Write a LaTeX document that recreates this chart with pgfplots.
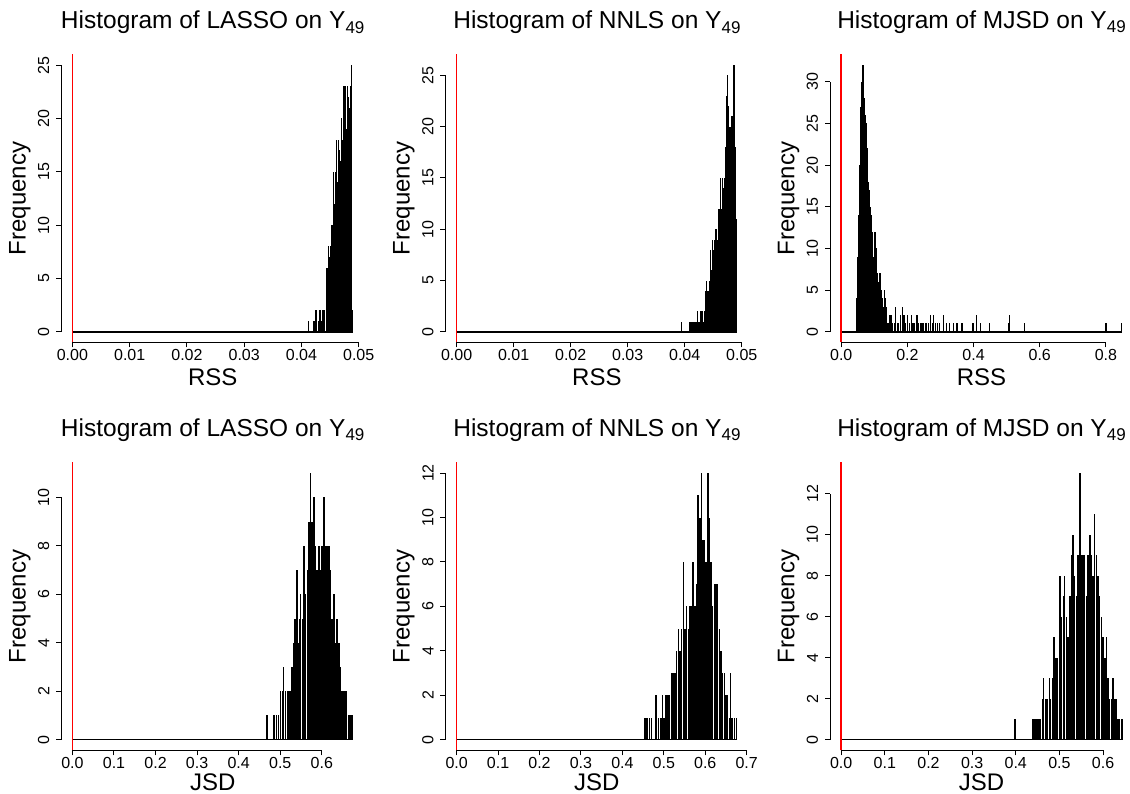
\documentclass[border=0pt]{standalone}
\usepackage{fontspec}
\setmainfont{Liberation Sans}
\usepackage{pgfplots}
\pgfplotsset{compat=1.18}

\newcommand{\histtitle}[1]{Histogram of #1 on Y\raisebox{-4.5pt}{\fontsize{17}{17}\selectfont 49}}

% R-like histogram panel
\pgfplotsset{
  rhist/.style={
    scale only axis, width=303pt, height=288pt,
    anchor=south west, clip=false,
    axis x line*=bottom, axis y line*=left,
    axis line style={draw=none},
    tick align=outside, major tick length=5pt,
    every tick/.style={black, line width=1pt},
    minor tick num=0, scaled ticks=false,
    /pgf/number format/assume math mode=true,
    tick label style={font=\fontsize{16}{16}\selectfont, inner sep=0pt},
    xticklabel shift=1.5pt,
    yticklabel shift=6.7pt,
    yticklabel style={rotate=90, anchor=south},
    title style={at={(axis description cs:0.5,1.0694)}, anchor=base,
      font=\fontsize{24.5}{28}\selectfont, inner sep=0pt},
    xlabel style={at={(axis description cs:0.5,-0.151)}, anchor=base,
      font=\fontsize{24}{28}\selectfont, inner sep=0pt},
    ylabel style={at={(axis description cs:-0.1178,0.5)}, anchor=base,
      font=\fontsize{24}{28}\selectfont, inner sep=0pt},
    ylabel={Frequency},
  },
  botrow/.style={xlabel style={at={(axis description cs:0.5,-0.14)}}},
  twodig/.style={xticklabel style={/pgf/number format/.cd, fixed, fixed zerofill, precision=2}},
  onedig/.style={xticklabel style={/pgf/number format/.cd, fixed, fixed zerofill, precision=1}},
  bars/.style={ycomb, black, line width=#1, mark=none},
  zeroline/.style={black, line width=1.5pt, mark=none},
  redline/.style={color=red, line width=#1, mark=none},
  redline/.default=1.4pt,
}

% axis lines from first to last tick, like R's axis()
\newcommand{\raxes}[2]{%
  \draw[line width=1pt] ({axis cs:0,0}|-{rel axis cs:0,0}) -- ({axis cs:#1,0}|-{rel axis cs:0,0});
  \draw[line width=1pt] ({rel axis cs:0,0}|-{axis cs:0,0}) -- ({rel axis cs:0,0}|-{axis cs:0,#2});}

\begin{document}
\begin{tikzpicture}
\useasboundingbox (0,0) rectangle (1130pt,794pt);

% ---- top row: RSS ----
\begin{axis}[rhist, twodig, at={(61.2pt,451.5pt)},
  title={\histtitle{LASSO}}, xlabel={RSS},
  xmin=-0.00196, xmax=0.05096, ymin=-1, ymax=26,
  xtick={0,0.01,0.02,0.03,0.04,0.05}, ytick={0,5,10,15,20,25}]
\addplot[zeroline] coordinates {(0,0)(0.049,0)};
\addplot[bars=1.1pt] coordinates {
(0,1)(0.04116,1)(0.04207,1)(0.04225,1)
(0.04250,2)(0.04270,2)(0.04290,1)(0.04310,2)(0.04330,2)(0.04350,1)(0.04370,2)(0.04390,2)(0.04410,2)
(0.04430,6)(0.04445,5)(0.04460,6)(0.04475,8)(0.04490,7)(0.04505,8)(0.04520,10)(0.04535,9)
(0.04550,10)(0.04565,15)(0.04580,12)(0.04595,15)(0.04610,18)(0.04625,14)(0.04640,12)(0.04655,18)
(0.04670,17)(0.04685,16)(0.04700,20)(0.04715,18)(0.04730,23)(0.04745,21)(0.04760,23)(0.04775,20)
(0.04790,19)(0.04805,23)(0.04820,22)(0.04835,21)(0.04850,23)(0.04865,22)(0.04880,25)(0.04895,2)};
\addplot[redline] coordinates {(0,-1)(0,26)};
\raxes{0.05}{25}
\end{axis}

\begin{axis}[rhist, twodig, at={(445.4pt,451.5pt)},
  title={\histtitle{NNLS}}, xlabel={RSS},
  xmin=-0.00197, xmax=0.05117, ymin=-1.04, ymax=27.04,
  xtick={0,0.01,0.02,0.03,0.04,0.05}, ytick={0,5,10,15,20,25}]
\addplot[zeroline] coordinates {(0,0)(0.0492,0)};
\addplot[bars=1.1pt] coordinates {
(0,1)(0.03950,1)(0.04085,1)(0.04100,1)(0.04115,1)(0.04130,1)(0.04145,1)(0.04160,1)(0.04175,1)
(0.04190,1)(0.04205,1)(0.04225,2)(0.04240,1)(0.04255,1)(0.04275,2)(0.04290,2)(0.04305,2)(0.04320,1)
(0.04340,2)(0.04360,4)(0.04375,5)(0.04390,4)(0.04405,3)(0.04420,4)(0.04435,5)(0.04450,8)(0.04465,6)
(0.04480,7)(0.04495,9)(0.04510,8)(0.04525,9)(0.04540,10)(0.04555,10)(0.04570,9)(0.04585,12)
(0.04600,11)(0.04615,12)(0.04630,15)(0.04645,12)(0.04660,15)(0.04675,14)(0.04690,15)(0.04705,15)
(0.04720,18)(0.04740,23)(0.04755,25)(0.04770,22)(0.04785,20)(0.04800,20)(0.04815,21)(0.04830,20)
(0.04845,21)(0.04865,26)(0.04880,17)(0.04895,18)(0.04910,11)};
\addplot[redline] coordinates {(0,-1.04)(0,27.04)};
\raxes{0.05}{25}
\end{axis}

\begin{axis}[rhist, onedig, at={(830pt,451.5pt)},
  title={\histtitle{MJSD}}, xlabel={RSS},
  xmin=-0.0339, xmax=0.8819, ymin=-1.28, ymax=33.28,
  xtick={0,0.2,0.4,0.6,0.8}, ytick={0,5,10,15,20,25,30}]
\addplot[zeroline] coordinates {(0,0)(0.848,0)};
\addplot[bars=1.2pt] coordinates {
(0,1)(0.045,4)(0.048,7)(0.051,9)(0.054,14)(0.057,20)(0.060,27)(0.063,30)(0.066,32)(0.069,28)
(0.072,26)(0.075,25)(0.078,22)(0.081,18)(0.084,17)(0.087,15)(0.090,14)(0.093,12)(0.096,9)(0.099,8)
(0.102,12)(0.105,10)(0.108,7)(0.111,6)(0.114,5)(0.117,7)(0.120,5)(0.123,4)(0.126,3)(0.129,2)
(0.132,5)(0.135,4)(0.138,3)(0.141,1)(0.144,1)(0.147,2)(0.150,2)(0.153,2)(0.156,1)(0.160,1)
(0.165,3)(0.170,1)(0.174,1)(0.178,2)(0.184,3)(0.190,2)(0.195,1)(0.200,2)(0.206,1)(0.212,2)
(0.217,1)(0.222,1)(0.229,2)(0.234,1)(0.239,1)(0.244,1)(0.249,1)(0.256,1)(0.264,1)(0.270,2)
(0.276,1)(0.280,2)(0.286,1)(0.291,1)(0.298,1)(0.309,2)(0.319,1)(0.327,1)(0.340,1)(0.350,1)
(0.365,1)(0.398,1)(0.408,2)(0.420,1)(0.447,1)(0.506,1)(0.509,2)(0.554,1)(0.800,1)(0.848,1)};
\addplot[redline=2pt] coordinates {(0,-1.28)(0,33.28)};
\raxes{0.8}{30}
\end{axis}

% ---- bottom row: JSD ----
\begin{axis}[rhist, botrow, onedig, at={(61.2pt,43.6pt)},
  title={\histtitle{LASSO}}, xlabel={JSD},
  xmin=-0.027, xmax=0.702, ymin=-0.44, ymax=11.44,
  xtick={0,0.1,0.2,0.3,0.4,0.5,0.6}, ytick={0,2,4,6,8,10}]
\addplot[zeroline] coordinates {(0,0)(0.675,0)};
\addplot[bars=1.5pt] coordinates {
(0,1)(0.468,1)(0.485,1)(0.491,1)(0.496,1)(0.501,2)(0.505,2)(0.508,3)(0.513,2)(0.517,2)(0.521,2)
(0.525,2)(0.528,3)(0.532,4)(0.536,5)(0.540,7)(0.543,4)(0.546,5)(0.549,6)(0.553,5)(0.557,8)
(0.561,6)(0.565,7)(0.569,9)(0.573,11)(0.577,9)(0.581,10)(0.585,8)(0.589,7)(0.593,8)(0.597,7)
(0.601,8)(0.605,10)(0.609,8)(0.613,8)(0.617,8)(0.621,7)(0.625,5)(0.629,6)(0.633,4)(0.637,5)
(0.641,4)(0.645,3)(0.649,2)(0.653,2)(0.656,2)(0.660,2)(0.664,1)(0.668,1)(0.671,1)(0.674,1)};
\addplot[redline] coordinates {(0,-0.44)(0,11.44)};
\raxes{0.6}{10}
\end{axis}

\begin{axis}[rhist, botrow, onedig, at={(445.4pt,43.6pt)},
  title={\histtitle{NNLS}}, xlabel={JSD},
  xmin=-0.0271, xmax=0.7041, ymin=-0.48, ymax=12.48,
  xtick={0,0.1,0.2,0.3,0.4,0.5,0.6,0.7}, ytick={0,2,4,6,8,10,12}]
\addplot[zeroline] coordinates {(0,0)(0.677,0)};
\addplot[bars=1.5pt] coordinates {
(0,1)(0.454,1)(0.459,1)(0.465,1)(0.470,1)(0.481,2)(0.487,1)(0.493,1)(0.497,2)(0.501,1)(0.505,2)
(0.509,2)(0.513,2)(0.518,3)(0.522,3)(0.527,3)(0.531,4)(0.535,5)(0.539,4)(0.543,5)(0.547,8)
(0.551,5)(0.555,6)(0.559,5)(0.563,6)(0.567,6)(0.571,8)(0.575,6)(0.579,7)(0.583,11)(0.587,10)
(0.591,12)(0.594,9)(0.598,9)(0.602,8)(0.606,12)(0.610,10)(0.614,8)(0.618,6)(0.622,7)(0.626,7)
(0.630,7)(0.634,5)(0.638,4)(0.642,3)(0.646,3)(0.650,2)(0.654,2)(0.658,1)(0.661,3)(0.665,1)
(0.670,1)(0.675,1)};
\addplot[redline] coordinates {(0,-0.48)(0,12.48)};
\raxes{0.7}{12}
\end{axis}

\begin{axis}[rhist, botrow, onedig, at={(830pt,43.6pt)},
  title={\histtitle{MJSD}}, xlabel={JSD},
  xmin=-0.0257, xmax=0.6687, ymin=-0.52, ymax=13.52,
  xtick={0,0.1,0.2,0.3,0.4,0.5,0.6}, ytick={0,2,4,6,8,10,12}]
\addplot[zeroline] coordinates {(0,0)(0.643,0)};
\addplot[bars=1.5pt] coordinates {
(0,1)(0.398,1)(0.439,1)(0.442,1)(0.445,1)(0.449,1)(0.453,1)(0.457,1)(0.461,2)(0.464,3)(0.469,2)
(0.473,2)(0.477,3)(0.480,2)(0.484,3)(0.488,5)(0.492,4)(0.496,4)(0.501,8)(0.505,6)(0.509,7)
(0.512,8)(0.516,6)(0.520,5)(0.524,7)(0.528,9)(0.531,10)(0.535,8)(0.539,7)(0.543,9)(0.547,13)
(0.551,9)(0.554,9)(0.558,9)(0.562,7)(0.566,9)(0.570,10)(0.573,9)(0.577,8)(0.581,11)(0.585,9)
(0.589,8)(0.592,7)(0.596,6)(0.600,5)(0.604,4)(0.608,5)(0.611,3)(0.615,2)(0.619,2)(0.623,3)
(0.627,2)(0.630,2)(0.634,1)(0.638,1)(0.643,1)};
\addplot[redline=2pt] coordinates {(0,-0.52)(0,13.52)};
\raxes{0.6}{12}
\end{axis}
\end{tikzpicture}
\end{document}
